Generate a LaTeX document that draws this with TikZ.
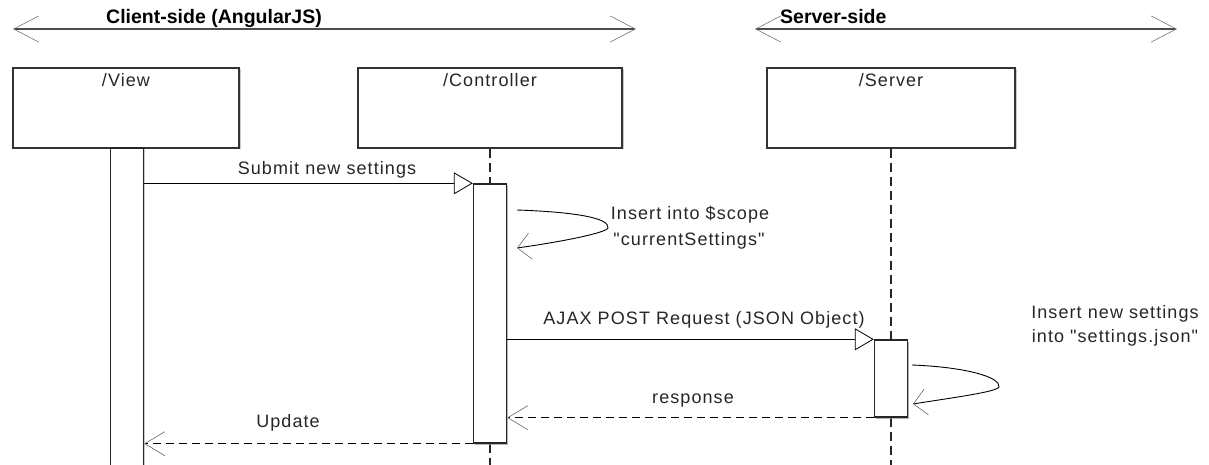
\documentclass[tikz,border=0pt]{standalone}
\usepackage{fontspec}
\setmainfont{Liberation Sans}
% same family without TeX ligatures, so that " stays a straight quote
\newfontfamily\uifont{Liberation Sans}
\usetikzlibrary{arrows.meta,shadows}

\tikzset{
  lbl/.style={font=\uifont\fontsize{18pt}{22pt}\selectfont\addfontfeatures{LetterSpace=6}, inner sep=0pt, anchor=base, text=black!85},
  hdr/.style={font=\uifont\fontsize{19.5pt}{23pt}\selectfont\bfseries, inner sep=0pt, anchor=base west, text=black},
  objbox/.style={draw=black!80, line width=1.6pt, fill=white, minimum width=226pt, minimum height=80pt, inner sep=0pt,
    drop shadow={shadow xshift=1.5pt, shadow yshift=-1.5pt, fill=black!35, opacity=0.6}},
  actbar/.style={draw=black!85, line width=1.4pt, fill=white, minimum width=33pt, inner sep=0pt,
    drop shadow={shadow xshift=1.5pt, shadow yshift=-1.5pt, fill=black!35, opacity=0.6}},
  lifeline/.style={draw=black!85, line width=1.2pt, dash pattern=on 9pt off 5pt},
  msg/.style={draw=black, line width=0.9pt},
  reply/.style={draw=black, line width=1pt, dash pattern=on 8pt off 5pt},
  calltip/.style={-{Triangle[open, fill=white, length=19pt, width=22pt, line width=0.8pt]}},
  backtip/.style={-{Straight Barb[length=20pt, width=24pt, line width=0.6pt, color=black!60]}},
  looptip/.style={-{Straight Barb[length=13pt, width=26pt, line width=0.6pt, color=black!60]}},
  span/.style={draw=black!70, line width=1.3pt,
    {Straight Barb[length=25pt, width=26pt, line width=0.6pt, color=black!55]}-{Straight Barb[length=25pt, width=26pt, line width=0.6pt, color=black!55]}},
}

\begin{document}
\begin{tikzpicture}[x=1pt, y=-1pt]
\useasboundingbox (0,0) rectangle (1209,465);
\clip (0,0) rectangle (1209,465);

% tier headers
\coordinate (cl) at (13,29);
\coordinate (cr) at (636,29);
\coordinate (sl) at (755,29);
\coordinate (sr) at (1177,29);
\draw[span] (cl) -- (cr);
\draw[span] (sl) -- (sr);
\node[hdr] (client) at (106,24) {Client-side (AngularJS)};
\node[hdr] (server) at (780,24) {Server-side};

% participants
\node[objbox] (view) at (126,108) {};
\node[objbox, minimum width=264pt] (ctrl) at (490,108) {};
\node[objbox, minimum width=248pt] (srv) at (891,108) {};
\node[lbl] (viewt) at (126,87) {/View};
\node[lbl] (ctrlt) at (490,87) {/Controller};
\node[lbl] (srvt) at (891,87) {/Server};

% lifeline ends
\coordinate (ctrlend) at (490,470);
\coordinate (srvend) at (891,470);

% activation bars
\node[actbar, minimum height=330pt] (viewbar) at (127,313) {};
\node[actbar, minimum height=259pt] (ctrlbar) at (490,313.5) {};
\node[actbar, minimum height=77pt] (srvbar) at (891,378.5) {};

\draw[lifeline] (ctrl.south) -- (ctrlbar.north);
\draw[lifeline] (ctrlbar.south) -- (ctrlend);
\draw[lifeline] (srv.south) -- (srvbar.north);
\draw[lifeline] (srvbar.south) -- (srvend);
% redraw bars above their lifelines
\node[actbar, minimum height=259pt] at (490,313.5) {};
\node[actbar, minimum height=77pt] at (891,378.5) {};

% Submit new settings
\draw[msg, calltip] (viewbar.east |- ctrlbar.north) -- (ctrlbar.north west);
\node[lbl] (submit) at (327,175) {Submit new settings};

% self call on the controller
\coordinate (c1) at (517,210);
\coordinate (c2) at (575,212);
\coordinate (c3) at (610,218);
\coordinate (ct) at (608,228);
\coordinate (c5) at (606,233);
\coordinate (c6) at (560,242);
\coordinate (c4) at (517,248);
\draw[msg, looptip] (c1) .. controls (c2) and (c3) .. (ct) .. controls (c5) and (c6) .. (c4);
\node[lbl] (scope1) at (690,219) {Insert into \$scope};
\node[lbl] (scope2) at (689,245) {"currentSettings"};

% AJAX request
\draw[msg, calltip] (ctrlbar.east |- srvbar.north) -- (srvbar.north west);
\node[lbl] (ajax) at (704,324) {AJAX POST Request (JSON Object)};

% self call on the server
\coordinate (s1) at (912,365);
\coordinate (s2) at (965,367);
\coordinate (s3) at (1001,377);
\coordinate (st) at (999,387);
\coordinate (s5) at (997,392);
\coordinate (s6) at (950,398);
\coordinate (s4) at (913,404);
\draw[msg, looptip] (s1) .. controls (s2) and (s3) .. (st) .. controls (s5) and (s6) .. (s4);
\node[lbl] (json1) at (1115,318) {Insert new settings};
\node[lbl] (json2) at (1115,342) {into "settings.json"};

% replies
\draw[reply, backtip] (srvbar.south west) -- (ctrlbar.east |- srvbar.south);
\node[lbl] (resp) at (693,403) {response};
\draw[reply, backtip] (ctrlbar.south west) -- (viewbar.east |- ctrlbar.south);
\node[lbl] (upd) at (288,427) {Update};
\end{tikzpicture}
\end{document}
